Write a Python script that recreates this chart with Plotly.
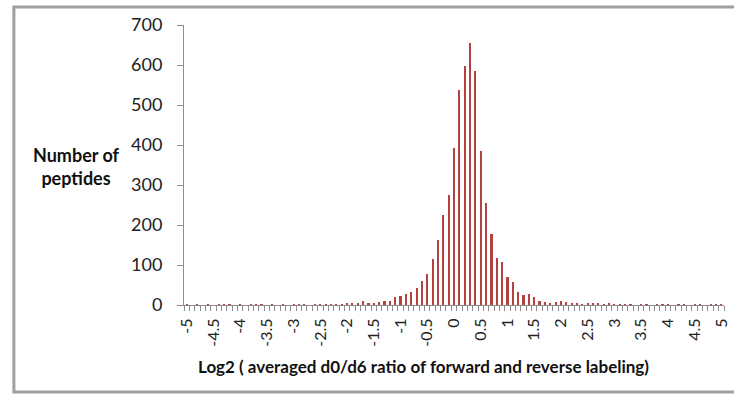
import plotly.graph_objects as go

# Bin centres (log2 ratio) from -5 to 5 in steps of 0.1
bins = [round(-5 + i * 0.1, 1) for i in range(101)]

counts = [
    1, 0, 1, 0, 1, 0, 1, 1, 2, 0,      # -5.0 .. -4.1
    1, 0, 1, 2, 1, 0, 1, 0, 1, 0,      # -4.0 .. -3.1
    1, 1, 1, 0, 1, 2, 1, 1, 2, 1,      # -3.0 .. -2.1
    3, 3, 4, 9, 5, 4, 7, 9, 10, 19,    # -2.0 .. -1.1
    23, 27, 33, 43, 61, 78, 116, 162, 225, 275,   # -1.0 .. -0.1
    393, 537, 597, 656, 585, 385, 256, 178, 118, 107,  # 0.0 .. 0.9
    71, 58, 33, 25, 27, 20, 10, 7, 3, 7,   # 1.0 .. 1.9
    9, 7, 6, 3, 2, 4, 3, 3, 2, 3,      # 2.0 .. 2.9
    2, 1, 1, 1, 0, 1, 1, 0, 1, 1,      # 3.0 .. 3.9
    1, 0, 1, 1, 0, 1, 1, 0, 1, 1,      # 4.0 .. 4.9
    1,                                 # 5.0
]

tick_vals = [-5, -4.5, -4, -3.5, -3, -2.5, -2, -1.5, -1, -0.5, 0,
             0.5, 1, 1.5, 2, 2.5, 3, 3.5, 4, 4.5, 5]
tick_text = ["-5", "-4.5", "-4", "-3.5", "-3", "-2.5", "-2", "-1.5", "-1", "-0.5", "0",
             "0.5", "1", "1.5", "2", "2.5", "3", "3.5", "4", "4.5", "5"]

y_ticks = [0, 100, 200, 300, 400, 500, 600, 700]

FONT = "Lato, 'Open Sans', sans-serif"
AXIS_GRAY = "#8c8c8c"

fig = go.Figure()
fig.add_trace(go.Bar(
    x=bins, y=counts,
    width=0.04,
    marker=dict(color="#B3423F", line=dict(width=0)),
    hoverinfo="x+y",
))

fig.update_layout(
    width=734, height=394,
    margin=dict(l=184, r=4, t=25, b=89),
    paper_bgcolor="white", plot_bgcolor="white",
    showlegend=False,
    font=dict(family=FONT, color="#222222", size=14),
    bargap=0,
)

fig.update_xaxes(
    range=[-5.05, 5.05],
    tickmode="array", tickvals=tick_vals, ticktext=tick_text,
    tickangle=-90,
    ticks="", showgrid=False, zeroline=False,
    showline=True, linecolor=AXIS_GRAY, linewidth=1,
    tickfont=dict(size=16, family=FONT, color="#222222"),
    minor=dict(tick0=-5.05, dtick=0.1, ticks="outside", ticklen=5,
               tickcolor=AXIS_GRAY, tickwidth=1, showgrid=False),
    ticklabelstandoff=6,
    ticklabeloverflow="allow",
)

fig.update_yaxes(
    range=[0, 700],
    tickmode="array", tickvals=y_ticks,
    ticks="outside", ticklen=6, tickcolor=AXIS_GRAY,
    showgrid=False, zeroline=False,
    showline=True, linecolor=AXIS_GRAY, linewidth=1,
    tickfont=dict(size=18, family=FONT, color="#222222"),
    ticklabelstandoff=11,
)

fig.add_annotation(
    text="<b>Number of<br>peptides</b>",
    xref="paper", yref="paper", x=-0.2, y=0.496,
    showarrow=False, align="center", xanchor="center", yanchor="middle",
    font=dict(size=18, family=FONT, color="#111111"),
)
fig.add_annotation(
    text="<b>Log2 ( averaged d0/d6 ratio of forward and reverse labeling)</b>",
    xref="paper", yref="paper", x=0.443, y=-0.221,
    showarrow=False, xanchor="center", yanchor="middle",
    font=dict(size=17, family=FONT, color="#111111"),
)

# outer frame (right edge falls outside the page, as in the original)
fig.add_shape(
    type="rect", xref="paper", yref="paper",
    x0=-0.315, x1=1.03, y0=-0.311, y1=1.064,
    line=dict(color="#a0a0a0", width=3), fillcolor="rgba(0,0,0,0)",
    layer="below",
)

fig.write_html("out.html")
